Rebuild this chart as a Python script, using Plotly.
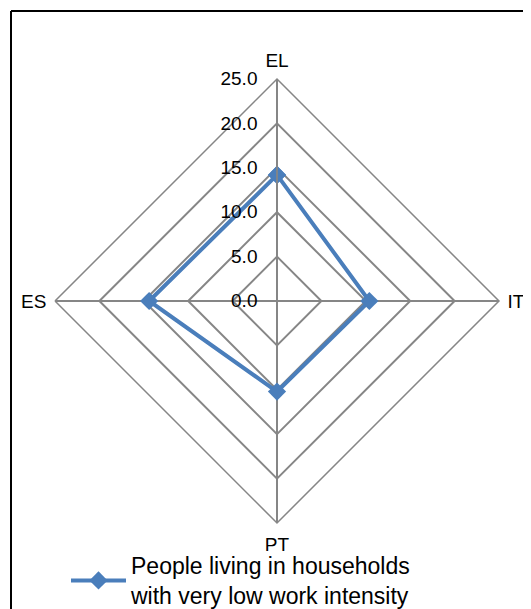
import plotly.graph_objects as go

categories = ['EL', 'IT', 'PT', 'ES']
values = [14.2, 10.4, 10.2, 14.4]
series_name = 'People living in households<br>with very low work intensity'
radial_ticks = [0, 5, 10, 15, 20, 25]

OFF = 8  # page body margin
W, H = 531 - 2 * OFF, 609 - OFF
grid_col = '#868686'
line_col = '#4a7ebb'


def px(x):
    return (x - OFF) / W


def py(y):
    return 1 - (y - OFF) / H


# close the polygon
r = values + values[:1]
theta = categories + categories[:1]

trace = go.Scatterpolar(r=r, theta=theta, mode='lines+markers', name=series_name,
                        line=dict(color=line_col, width=4),
                        marker=dict(symbol='diamond', size=14, color=line_col))

layout = go.Layout(
    width=W, height=H,
    margin=dict(l=0, r=0, t=0, b=0, autoexpand=False),
    paper_bgcolor='white',
    font=dict(family='Liberation Sans, Arial', size=19, color='black'),
    polar=dict(
        domain=dict(x=[px(55), px(499)], y=[py(523), py(79)]),
        gridshape='linear',
        bgcolor='white',
        radialaxis=dict(range=[0, 25], tickvals=radial_ticks, tickformat='.1f',
                        angle=90, side='counterclockwise', tickangle=90,
                        showline=True, linecolor=grid_col, linewidth=1.8,
                        gridcolor=grid_col, gridwidth=1.5,
                        ticks='outside', ticklen=12, tickcolor='rgba(0,0,0,0)',
                        tickfont=dict(size=19)),
        angularaxis=dict(categoryorder='array', categoryarray=categories,
                         rotation=90, direction='clockwise',
                         showline=True, linecolor=grid_col, linewidth=1.5,
                         gridcolor=grid_col, gridwidth=1.8,
                         ticks='outside', ticklen=4, tickcolor='rgba(0,0,0,0)',
                         tickfont=dict(size=19)),
    ),
    showlegend=True,
    legend=dict(x=px(66), y=py(544), xanchor='left', yanchor='top',
                itemwidth=55, font=dict(size=23), bgcolor='rgba(0,0,0,0)'),
    shapes=[
        dict(type='line', xref='paper', yref='paper', x0=px(11), x1=px(11), y0=-0.1, y1=py(11),
             line=dict(color='black', width=2)),
        dict(type='line', xref='paper', yref='paper', x0=px(11), x1=1.1, y0=py(11), y1=py(11),
             line=dict(color='black', width=2)),
    ],
)

fig = go.Figure(data=[trace], layout=layout)
fig.write_html("out.html")
